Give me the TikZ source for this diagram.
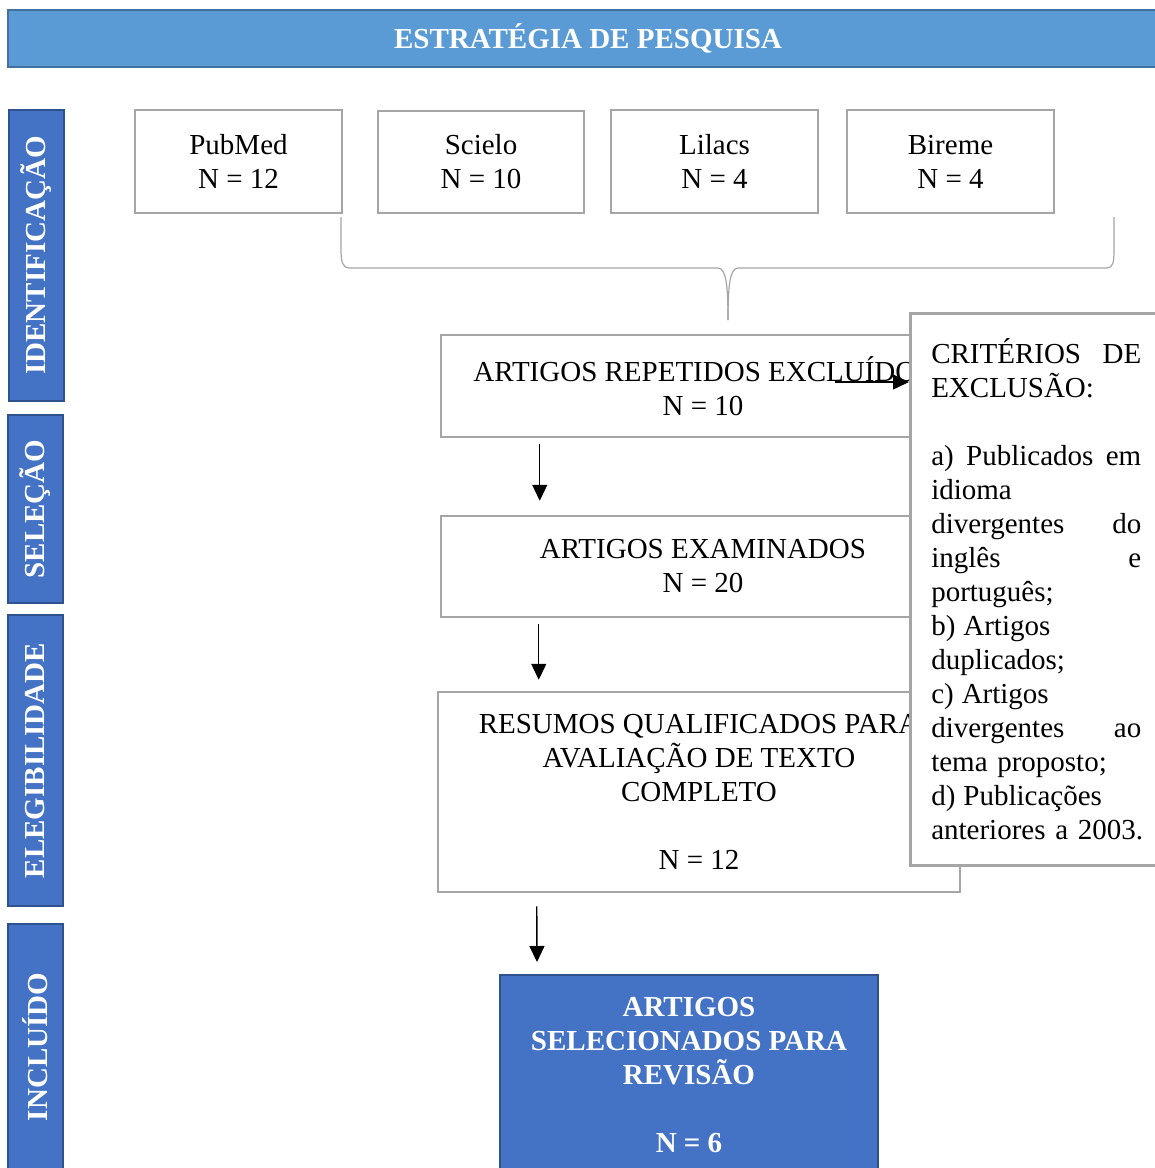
\documentclass[tikz,border=0pt]{standalone}
\usepackage{fontspec}
\setmainfont{Liberation Serif}
\usetikzlibrary{arrows.meta,calc}
\definecolor{bannerfill}{HTML}{5B9BD5}
\definecolor{bannerborder}{HTML}{41719C}
\definecolor{bluefill}{HTML}{4472C4}
\definecolor{blueborder}{HTML}{2F528F}
\definecolor{boxgray}{HTML}{A5A5A5}
\newcommand{\jline}[1]{\leavevmode\hbox to 210pt{#1}}
\begin{document}
\begin{tikzpicture}[x=1pt,y=-1pt,
  every node/.style={font=\fontsize{29}{34}\selectfont, inner sep=0pt},
  graybox/.style={draw=boxgray, line width=2.5pt, fill=white, align=center},
  bluebox/.style={draw=blueborder, fill=bluefill, line width=2pt, text=white, align=center,
     font=\fontsize{29}{34}\selectfont\bfseries},
  sidebox/.style={bluebox, rotate=90, minimum height=55pt},
  arr/.style={line width=1.4pt, -{Triangle[width=15pt,length=16pt]}},
  bracestyle/.style={draw=boxgray, line width=1.2pt}]
\useasboundingbox (0,0) rectangle (1155,1168);
\clip (0,0) rectangle (1155,1168);

% banner
\node[draw=bannerborder, fill=bannerfill, line width=2.5pt, text=white,
      font=\fontsize{29}{34}\selectfont\bfseries,
      minimum width=1160pt, minimum height=57pt] (banner) at (588,38.5) {ESTRATÉGIA DE PESQUISA};

% side labels
\node[sidebox, minimum width=291pt] (ident) at (36,255.5) {IDENTIFICAÇÃO};
\node[sidebox, minimum width=188pt] (selec) at (35,509) {SELEÇÃO};
\node[sidebox, minimum width=291pt] (eleg) at (35,760.5) {ELEGIBILIDADE};
\node[sidebox, minimum width=246pt] (incl) at (35,1047) {INCLUÍDO};

% sources
\node[graybox, minimum width=207pt, minimum height=103pt] (pubmed) at (238.5,161.5) {PubMed\\N = 12};
\node[graybox, minimum width=206pt, minimum height=102pt] (scielo) at (481,162) {Scielo\\N = 10};
\node[graybox, minimum width=207pt, minimum height=103pt] (lilacs) at (714.5,161.5) {Lilacs\\N = 4};
\node[graybox, minimum width=207pt, minimum height=103pt] (bireme) at (950.5,161.5) {Bireme\\N = 4};

% brace
\draw[bracestyle] (341,217) -- (341,250) .. controls (341,262) and (343,268) .. (349,268)
   -- (718,268) .. controls (726,268) and (728,285) .. (728,320);
\draw[bracestyle] (728,320) .. controls (728,285) and (730,268) .. (738,268)
   -- (1107,268) .. controls (1113,268) and (1114,262) .. (1114,250) -- (1114,217);

% flow boxes
\node[graybox, minimum width=524pt, minimum height=102pt] (rep) at (703,386) {ARTIGOS REPETIDOS EXCLUÍDOS\\N = 10};
\node[graybox, minimum width=524pt, minimum height=101pt] (exam) at (703,566.5) {ARTIGOS EXAMINADOS\\N = 20};
\node[graybox, minimum width=522pt, minimum height=200pt] (resumos) at (699,792)
  {RESUMOS QUALIFICADOS PARA\\AVALIAÇÃO DE TEXTO\\COMPLETO\\[34pt]N = 12};
\node[bluebox, minimum width=378pt, minimum height=201pt] (final) at (689,1075.5)
  {ARTIGOS\\SELECIONADOS PARA\\REVISÃO\\[34pt]N = 6};

% criteria
\node[graybox, anchor=north west, minimum width=252pt, minimum height=552pt,
      text width=214pt, align=left, inner xsep=21pt] (crit) at (909,312)
  {\jline{CRITÉRIOS\hfill DE}\\
   EXCLUSÃO:\\[34pt]
   \jline{a)\hfill Publicados\hfill em}\\
   idioma\\
   \jline{divergentes\hfill do}\\
   \jline{inglês\hfill e}\\
   português;\\
   b)\hspace{8pt}Artigos\\
   duplicados;\\
   c)\hspace{8pt}Artigos\\
   \jline{divergentes\hfill ao}\\
   tema proposto;\\
   d)\hspace{8pt}Publicações\\
   \mbox{anteriores a 2003.}};

% arrows
\draw[arr] ($(rep.south west)+(100,6)$) -- ($(exam.north west)+(100,-14)$);
\draw[arr] ($(exam.south west)+(99,6)$) -- ($(resumos.north west)+(102,-11)$);
\draw[arr] ($(resumos.south west)+(100,13)$) -- ($(final.north west)+(38,-12)$);
\coordinate (repout) at ($(rep.center)+(132,-4)$);
\draw[arr] (repout) -- (repout -| crit.west);
\end{tikzpicture}
\end{document}
